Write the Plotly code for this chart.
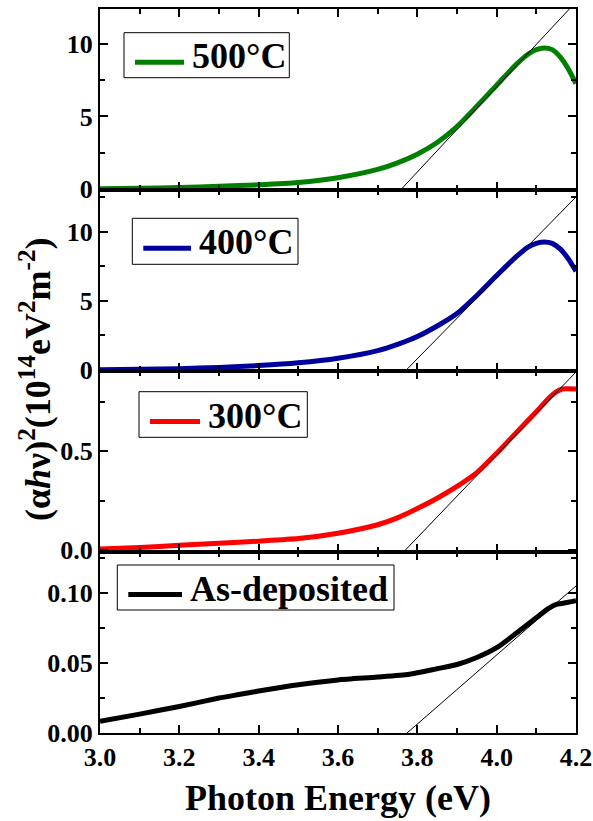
import plotly.graph_objects as go
from plotly.subplots import make_subplots

# ---- data ----
energy_500 = [3.00, 3.10, 3.20, 3.30, 3.40, 3.50, 3.60, 3.70, 3.75, 3.80, 3.85, 3.90, 3.95, 4.00,
              4.05, 4.08, 4.10, 4.12, 4.14, 4.16, 4.18, 4.20]
alpha_500 = [0.02, 0.05, 0.10, 0.18, 0.29, 0.45, 0.78, 1.35, 1.80, 2.40, 3.20, 4.30, 5.70, 7.15,
             8.60, 9.30, 9.60, 9.72, 9.60, 9.10, 8.30, 7.26]

energy_400 = [3.00, 3.10, 3.20, 3.30, 3.40, 3.50, 3.60, 3.70, 3.75, 3.80, 3.85, 3.90, 3.95, 4.00,
              4.05, 4.08, 4.10, 4.12, 4.14, 4.16, 4.18, 4.20]
alpha_400 = [0.02, 0.05, 0.10, 0.19, 0.32, 0.52, 0.85, 1.40, 1.85, 2.42, 3.18, 4.08, 5.38, 6.82,
             8.20, 8.90, 9.15, 9.25, 9.15, 8.75, 8.05, 7.14]

energy_300 = [3.00, 3.10, 3.20, 3.30, 3.40, 3.50, 3.60, 3.70, 3.75, 3.80, 3.85, 3.90, 3.95, 4.00,
              4.05, 4.10, 4.13, 4.15, 4.165, 4.20]
alpha_300 = [0.005, 0.013, 0.024, 0.034, 0.045, 0.058, 0.085, 0.128, 0.163, 0.210, 0.262, 0.322,
             0.392, 0.490, 0.595, 0.700, 0.765, 0.800, 0.815, 0.815]

energy_asdep = [3.00, 3.10, 3.20, 3.30, 3.35, 3.40, 3.50, 3.60, 3.70, 3.78, 3.85, 3.90, 3.95, 4.00,
                4.05, 4.10, 4.13, 4.15, 4.17, 4.20]
alpha_asdep = [0.0083, 0.0135, 0.019, 0.025, 0.0275, 0.030, 0.0345, 0.038, 0.040, 0.042, 0.046,
               0.049, 0.054, 0.061, 0.0715, 0.0825, 0.089, 0.092, 0.093, 0.0947]

# linear extrapolation (Tauc fit): x-intercept (eV) and slope, per sample
tangent_intercept = [3.76, 3.772, 3.77, 3.774]
tangent_slope = [29.3, 29.2, 2.095, 0.247]

labels = ["500°C", "400°C", "300°C", "As-deposited"]
colors = ["#008000", "#00009C", "#FF0000", "#000000"]
x_range = [3.0, 4.2]
y_ranges = [[-0.07, 12.4], [-0.07, 13.0], [-0.01, 0.906], [0.0, 0.1295]]
y_dticks = [5, 5, 0.5, 0.05]
y_formats = ["d", "d", ".1f", ".2f"]

series = [(energy_500, alpha_500), (energy_400, alpha_400),
          (energy_300, alpha_300), (energy_asdep, alpha_asdep)]

FONT = "Liberation Serif"
W, H = 593, 821
ML, MR, MT, MB = 100, 17, 9, 88
PW, PH = W - ML - MR, H - MT - MB


def px_to_paper(px, py):
    return (px - ML) / PW, (H - MB - py) / PH


fig = make_subplots(rows=4, cols=1, shared_xaxes=True, vertical_spacing=0)

for i, ((xs, ys), lab, col) in enumerate(zip(series, labels, colors)):
    row = i + 1
    fig.add_trace(go.Scatter(x=xs, y=ys, mode="lines", name=lab, showlegend=False,
                             line=dict(color=col, width=5, shape="spline", smoothing=0.6)),
                  row=row, col=1)
    x0 = tangent_intercept[i]
    tx = [x0 - 0.05, 4.3]
    ty = [tangent_slope[i] * (v - x0) for v in tx]
    fig.add_trace(go.Scatter(x=tx, y=ty, mode="lines", showlegend=False,
                             line=dict(color="black", width=1)), row=row, col=1)

tickfont = dict(family=FONT, size=26, color="black", weight="bold")
common = dict(showline=True, linecolor="black", linewidth=2, mirror="allticks",
              ticks="inside", ticklen=8, tickwidth=2, tickcolor="black",
              showgrid=False, zeroline=False, tickfont=tickfont, automargin=False)

for i in range(4):
    row = i + 1
    fig.update_xaxes(range=x_range, tick0=3.0, dtick=0.2, tickformat=".1f",
                     minor=dict(ticks="inside", ticklen=5, tickwidth=2, tickcolor="black",
                                dtick=0.1, showgrid=False),
                     **common, row=row, col=1)
    fig.update_yaxes(range=y_ranges[i], tick0=0, dtick=y_dticks[i], tickformat=y_formats[i],
                     minor=dict(ticks="inside", ticklen=5, tickwidth=2, tickcolor="black",
                                dtick=y_dticks[i] / 2, showgrid=False),
                     **common, row=row, col=1)

fig.update_layout(
    width=W, height=H,
    margin=dict(l=ML, r=MR, t=MT, b=MB, autoexpand=False),
    paper_bgcolor="white", plot_bgcolor="white",
    showlegend=False,
)

# legend boxes (one per panel): box left/top/right/bottom in px, text start x in px
legend_boxes = [(124, 32.7, 289.3, 77.7, 192), (132.3, 218.3, 298, 264.3, 199),
                (139, 391.7, 307.3, 437.3, 208), (117.3, 565, 394, 610, 190)]
legfont = dict(family=FONT, size=36, color="black", weight="bold")
for (bl, bt, br, bb, tx0), lab, col in zip(legend_boxes, labels, colors):
    x0p, y0p = px_to_paper(bl, bt)
    x1p, y1p = px_to_paper(br, bb)
    fig.add_shape(type="rect", xref="paper", yref="paper", x0=x0p, x1=x1p, y0=y1p, y1=y0p,
                  line=dict(color="black", width=1), fillcolor="white", layer="above")
    lx0, ly = px_to_paper(bl + 11, (bt + bb) / 2 + 7)
    lx1, _ = px_to_paper(tx0 - 8, (bt + bb) / 2 + 7)
    fig.add_shape(type="line", xref="paper", yref="paper", x0=lx0, x1=lx1, y0=ly, y1=ly,
                  line=dict(color=col, width=5), layer="above")
    tx, ty = px_to_paper(tx0 - 1, (bt + bb) / 2 + 1)
    fig.add_annotation(text=lab, xref="paper", yref="paper", x=tx, y=ty,
                       xanchor="left", yanchor="middle", showarrow=False,
                       borderpad=0, font=legfont)

fig.add_annotation(text="Photon Energy (eV)", xref="paper", yref="paper",
                   x=0.5, y=px_to_paper(0, 798)[1], xanchor="center", yanchor="middle",
                   showarrow=False,
                   font=dict(family=FONT, size=36, color="black", weight="bold"))
fig.add_annotation(text="(α<i>h</i>ν)<sup>2</sup>(10<sup>14</sup>eV<sup>2</sup>m<sup>-2</sup>)",
                   xref="paper", yref="paper", x=px_to_paper(35, 0)[0],
                   y=px_to_paper(0, 379)[1], textangle=-90,
                   xanchor="center", yanchor="middle", showarrow=False,
                   font=dict(family=FONT, size=36, color="black", weight="bold"))

fig.write_html("out.html")
